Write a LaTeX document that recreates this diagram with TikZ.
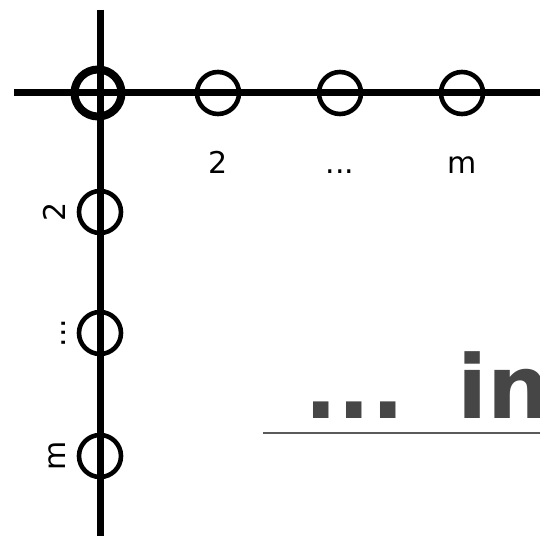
\documentclass[tikz,border=0pt]{standalone}
\usepackage{fontspec}
\setmainfont{DejaVu Sans}
\usepackage{tikz}
\usetikzlibrary{positioning, calc}
\usepackage{xcolor}
\definecolor{inkgray}{HTML}{464646}
\definecolor{rulegray}{HTML}{5A5A5A}

\begin{document}
\begin{tikzpicture}[
    x=0.5pt, y=-0.5pt,
    axis/.style={line width=3.5pt},
    ring/.style={circle, draw, line width=2.3pt, inner sep=0pt, minimum size=21pt},
    thickring/.style={circle, draw, line width=4pt, inner sep=0pt, minimum size=23.5pt},
    lbl/.style={font=\fontsize{15}{18}\selectfont, inner sep=0pt, anchor=base},
    vlbl/.style={lbl, rotate=90}
]
\useasboundingbox (0,0) rectangle (540,535);
\clip (0,0) rectangle (540,535);

% axes
\coordinate (hleft) at (14,93);
\coordinate (hright) at (545,93);
\coordinate (vtop) at (100,10);
\coordinate (vbot) at (100,540);
\draw[axis] (hleft) -- (hright);
\draw[axis] (vtop) -- (vbot);

% corner and row/column markers
\node[thickring] (corner) at (98,93) {};
\node[ring] (h2) at (218,93) {};
\node[ring] (hdots) at (340,93) {};
\node[ring] (hm) at (462,93) {};
\node[ring] (v2) at (100,212) {};
\node[ring] (vdots) at (100,333) {};
\node[ring] (vm) at (100,456) {};

% labels
\node[lbl] (lh2) at (218,173) {2};
\node[lbl] (lhdots) at (340,173) {...};
\node[lbl] (lhm) at (462,173) {m};
\node[vlbl] (lv2) at (65,212) {2};
\node[vlbl] (lvdots) at (65,333) {...};
\node[vlbl] (lvm) at (65,456) {m};

% cut-off text with rule
\node[anchor=base west, inner sep=0pt, text=inkgray,
      font=\fontsize{44}{50}\selectfont\bfseries] (more) at (304,418) {...\hspace{0.6em}in};
\coordinate (rulestart) at (263,433);
\coordinate (ruleend) at (545,433);
\draw[rulegray, line width=1pt] (rulestart) -- (ruleend);
\end{tikzpicture}
\end{document}
